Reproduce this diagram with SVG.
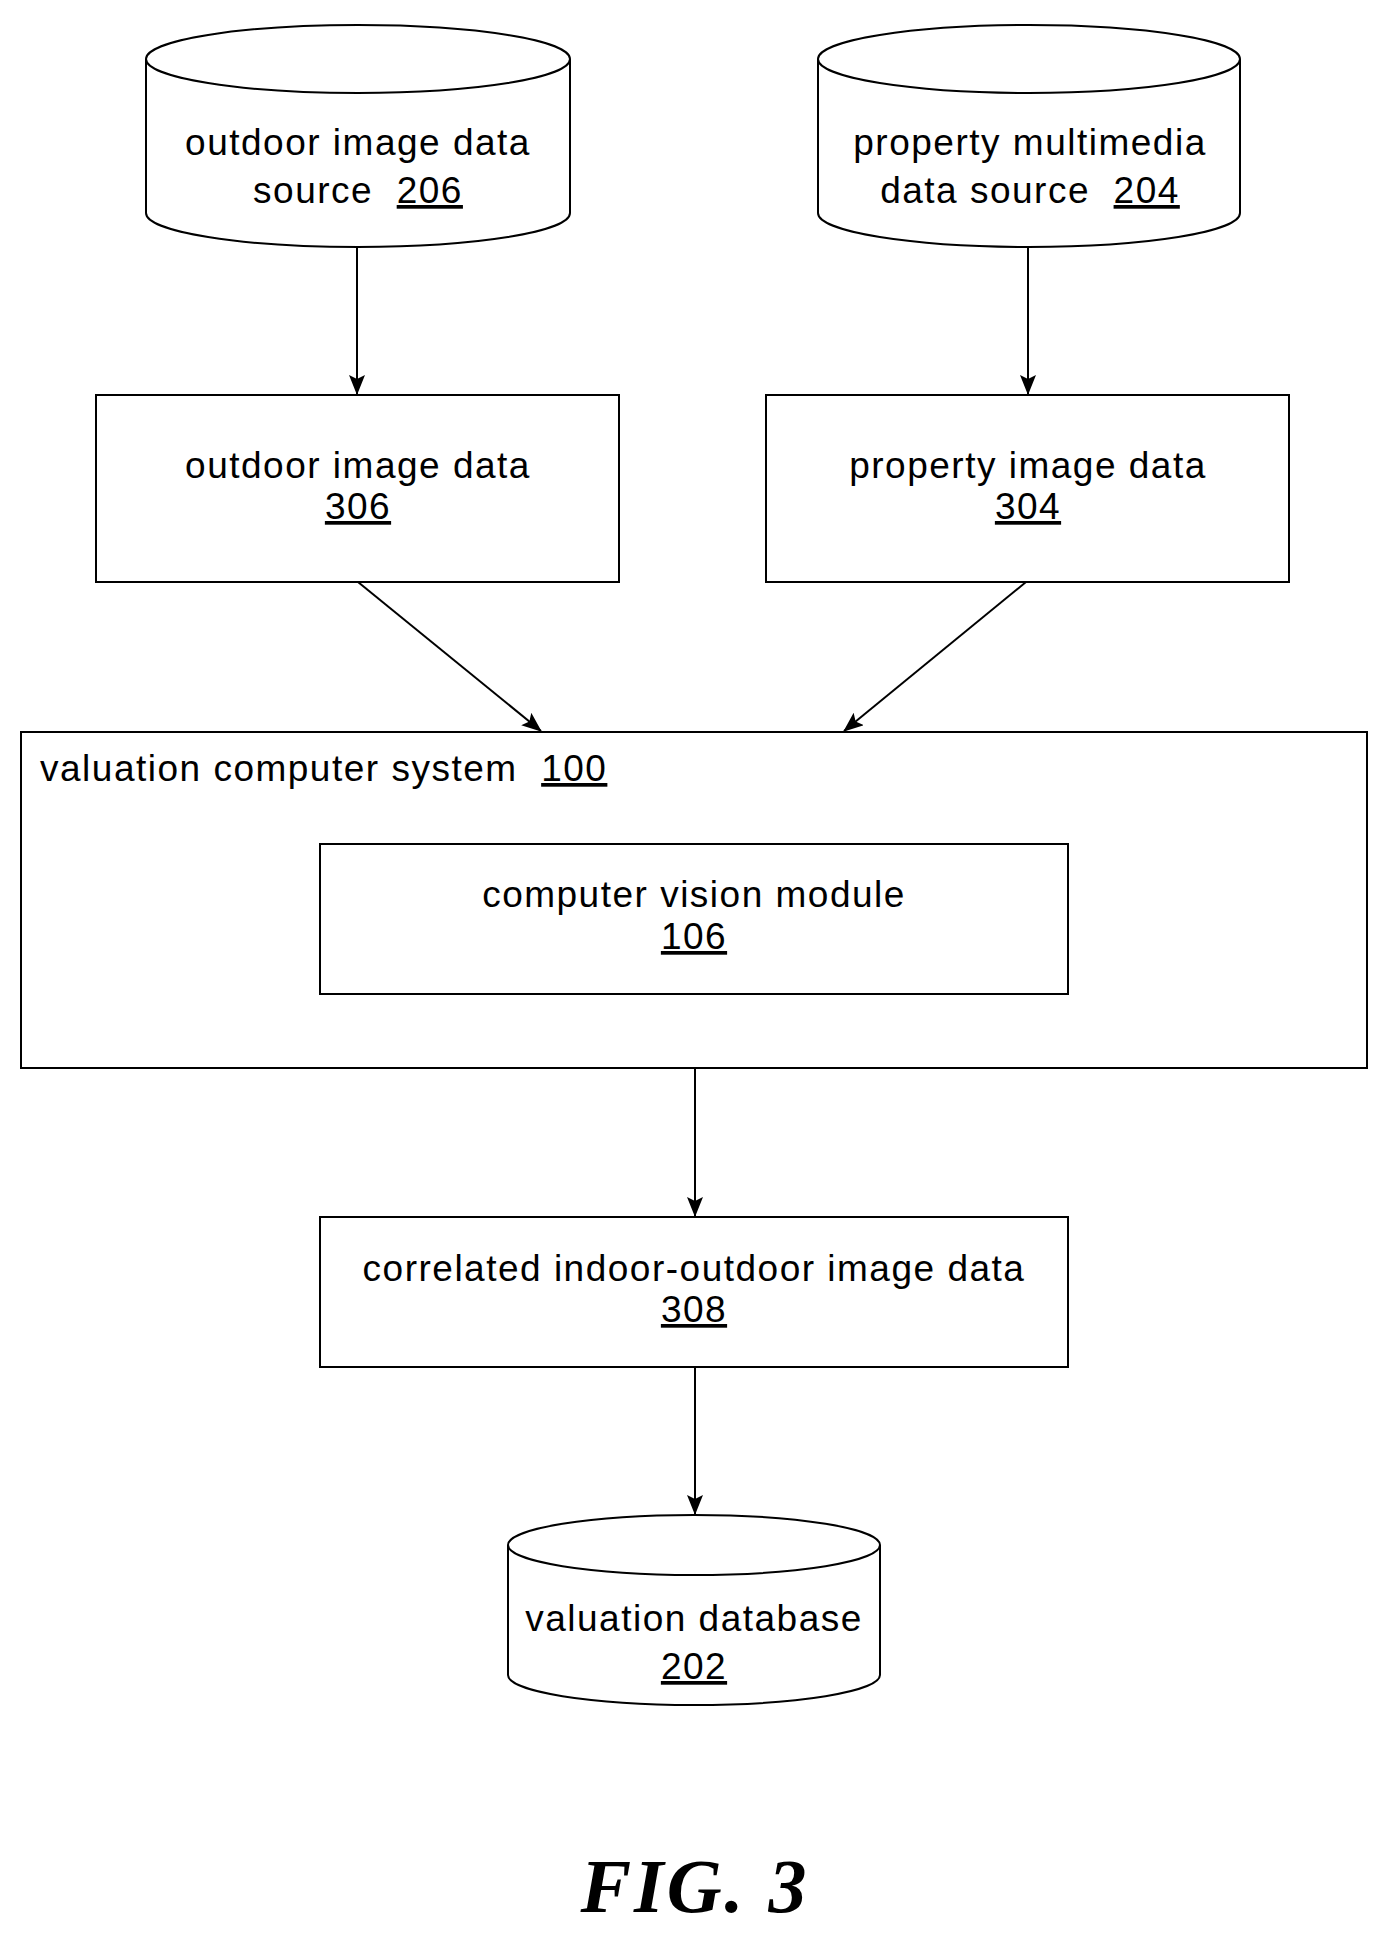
<svg xmlns="http://www.w3.org/2000/svg" width="1394" height="1944" viewBox="0 0 1394 1944">
<style>
.s{fill:#fff;stroke:#000;stroke-width:2}
.l{stroke:#000;stroke-width:2;fill:none}
text{font-family:"Liberation Sans",Arial,sans-serif;font-size:37px;letter-spacing:1.5px;fill:#000;text-anchor:middle;white-space:pre}
.u{text-decoration:underline}
</style>
<defs><marker id="a" markerWidth="20" markerHeight="20" refX="19" refY="8" orient="auto" markerUnits="userSpaceOnUse"><path d="M0,0 L20,8 L0,16 L4,8 Z" fill="#000"/></marker></defs>
<g id="n206"><path class="s" d="M146,59 L146,213 A212,34 0 0 0 570,213 L570,59 A212,34 0 0 0 146,59 A212,34 0 0 0 570,59"/>
<text x="358" y="155">outdoor image data</text><text x="358" y="203" xml:space="preserve">source  <tspan class="u">206</tspan></text></g>
<g id="n204"><path class="s" d="M818,59 L818,213 A211,34 0 0 0 1240,213 L1240,59 A211,34 0 0 0 818,59 A211,34 0 0 0 1240,59"/>
<text x="1030" y="155">property multimedia</text><text x="1030" y="203" xml:space="preserve">data source  <tspan class="u">204</tspan></text></g>
<g id="n306"><rect class="s" x="96" y="395" width="523" height="187"/><text x="358" y="478">outdoor image data</text><text x="358" y="519" class="u">306</text></g>
<g id="n304"><rect class="s" x="766" y="395" width="523" height="187"/><text x="1028" y="478">property image data</text><text x="1028" y="519" class="u">304</text></g>
<g id="n100"><rect class="s" x="21" y="732" width="1346" height="336"/><text x="40" y="781" style="text-anchor:start" xml:space="preserve">valuation computer system  <tspan class="u">100</tspan></text></g>
<g id="n106"><rect class="s" x="320" y="844" width="748" height="150"/><text x="694" y="907">computer vision module</text><text x="694" y="949" class="u">106</text></g>
<g id="n308"><rect class="s" x="320" y="1217" width="748" height="150"/><text x="694" y="1281">correlated indoor-outdoor image data</text><text x="694" y="1322" class="u">308</text></g>
<g id="n202"><path class="s" d="M508,1545 L508,1675 A186,30 0 0 0 880,1675 L880,1545 A186,30 0 0 0 508,1545 A186,30 0 0 0 880,1545"/>
<text x="694" y="1631">valuation database</text><text x="694" y="1679" class="u">202</text></g>
<g id="connectors">
<line class="l" x1="357" y1="247" x2="357" y2="394" marker-end="url(#a)"/>
<line class="l" x1="1028" y1="247" x2="1028" y2="394" marker-end="url(#a)"/>
<line class="l" x1="358" y1="582" x2="541" y2="731" marker-end="url(#a)"/>
<line class="l" x1="1026" y1="582" x2="844" y2="731" marker-end="url(#a)"/>
<line class="l" x1="695" y1="1068" x2="695" y2="1216" marker-end="url(#a)"/>
<line class="l" x1="695" y1="1367" x2="695" y2="1514" marker-end="url(#a)"/>
</g>
<text x="695" y="1912" style="font-family:'Liberation Serif',serif;font-weight:bold;font-style:italic;font-size:76px;letter-spacing:3px">FIG. 3</text>
</svg>
